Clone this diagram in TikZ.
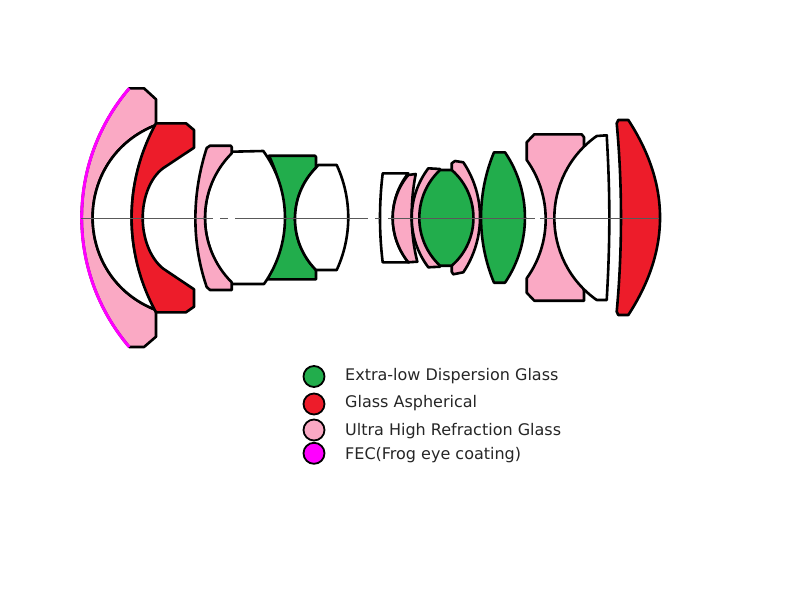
\documentclass[tikz,border=0pt]{standalone}
\usepackage{fontspec}
\setmainfont{DejaVu Sans}
\definecolor{lpink}{HTML}{FAA9C4}
\definecolor{lgreen}{HTML}{22AD4C}
\definecolor{lred}{HTML}{ED1C2A}
\definecolor{lmag}{HTML}{FF00FF}
\tikzset{
 lens/.style={draw=black,line width=2.6pt,line join=round},
 pinklens/.style={lens,fill=lpink},
 greenlens/.style={lens,fill=lgreen},
 redlens/.style={lens,fill=lred},
 whitelens/.style={lens,fill=white},
 axisline/.style={draw=black!65,line width=1pt},
 legdot/.style={circle,draw=black,line width=1.8pt,minimum size=21pt,inner sep=0pt},
 legtext/.style={anchor=west,inner sep=0pt,text=black!85,font=\fontsize{16pt}{18pt}\selectfont}
}
\begin{document}
\begin{tikzpicture}[x=1pt,y=-1pt]
\useasboundingbox[fill=white] (0,0) rectangle (800,600);
% first group
\path[pinklens] (129.3,88.3) -- (144,88.3) -- (156,99.3) -- (156,125)
  .. controls (71.5,157.8) and (71.5,277.2) .. (156,310)
  -- (156,336.7) -- (144,347) -- (129.3,347)
  .. controls (65.8,272.4) and (65.8,162.9) .. cycle;
\path[draw=lmag,line width=3pt] (129.3,88.3) .. controls (65.8,162.9) and (65.8,272.4) .. (129.3,347);
\path[whitelens] (156,125) .. controls (71.5,157.8) and (71.5,277.2) .. (156,310)
  .. controls (123.5,253) and (123.5,182.4) .. cycle;
\path[redlens] (156,123.3) -- (186,123.3) -- (194,130) -- (194,147.7)
  -- (163,168.3) .. controls (150,178) and (142.7,198) .. (142.7,218)
  .. controls (142.7,238) and (150,258) .. (163,268.5)
  -- (194,289.3) -- (194,306.7) -- (186,312.3) -- (156,312.3)
  .. controls (123.5,253) and (123.5,182.4) .. cycle;
% second group
\path[greenlens] (269,155.7) -- (315,155.7) -- (316,157) -- (316,167.7)
  .. controls (288,195.9) and (288,241.8) .. (316,270)
  -- (316,279.3) -- (267.3,279.3)
  .. controls (288.4,238) and (288.4,197) .. cycle;
\path[whitelens] (316,167.7) -- (318.3,165) -- (336.7,165)
  .. controls (352.1,198.3) and (352.1,236.7) .. (336.7,270)
  -- (316.7,270) -- (316,270)
  .. controls (288,241.8) and (288,195.9) .. cycle;
\path[whitelens] (231.7,151.7) -- (263.3,151)
  .. controls (292.1,190.7) and (292.1,244.3) .. (264,284)
  -- (231.7,284)
  .. controls (196.1,246.6) and (196.1,189) .. cycle;
\path[pinklens] (206.7,148) -- (210,145.7) -- (230.7,145.7) -- (231.7,147) -- (231.7,153.3)
  .. controls (196.1,189) and (196.1,246.6) .. (231.7,282.3)
  -- (231.7,290) -- (210,290) -- (206.7,287)
  .. controls (191.6,243) and (191.6,195) .. cycle;
% third group
\path[whitelens] (382.7,173.3) -- (408.3,173.3)
  .. controls (387.5,199.3) and (387.5,236.3) .. (408.3,262.3)
  -- (382.7,262.3) .. controls (379.1,233) and (379.1,203) .. cycle;
\path[pinklens] (408.3,175) -- (415.7,174)
  .. controls (410.1,203) and (410.1,233) .. (417.3,261.7)
  -- (408.3,262.3)
  .. controls (387.5,236.3) and (387.5,199.3) .. cycle;
\path[pinklens] (428.3,168.3) -- (440,169) -- (440,266.7) -- (428.3,267.3)
  .. controls (406.2,238) and (406.2,197.6) .. cycle;
\path[pinklens] (451.7,163.3) -- (455,161) -- (463.3,162.3)
  .. controls (485.6,195.5) and (485.6,239) .. (463.3,272.3)
  -- (453.3,274.3) -- (451.7,271.7) -- (451.7,170) -- cycle;
\path[greenlens] (440,170) -- (451.7,170)
  .. controls (480.7,195) and (480.7,240.7) .. (451.7,265.7)
  -- (440,265.7)
  .. controls (412.4,239.8) and (412.4,195.9) .. cycle;
\path[greenlens] (494,152.3) -- (505,152.3)
  .. controls (531.6,191.5) and (531.6,243.5) .. (505,282.7)
  -- (494,282.7)
  .. controls (476.7,241.2) and (476.7,193.8) .. cycle;
% fourth group
\path[pinklens] (534.3,134.3) -- (581.7,134.3) -- (584,137.3) -- (584,146.7) -- (570,218) -- (584,291.7)
  -- (584,300.7) -- (534.3,300.7) -- (526.7,292.7) -- (526.7,278.3)
  .. controls (552,243.1) and (552,195.2) .. (526.7,160)
  -- (526.7,142.3) -- cycle;
\path[whitelens] (596.7,136) -- (606.7,135.3)
  .. controls (610.2,195) and (610.2,240) .. (606.7,300)
  -- (596.7,300)
  .. controls (540.2,260) and (540.2,176) .. cycle;
\path[redlens] (618.3,120) -- (628.3,120)
  .. controls (670.6,185) and (670.6,250) .. (628.3,315)
  -- (618.3,315) -- (616.7,311.7)
  .. controls (622.4,250) and (622.4,185) .. (616.7,123.3) -- cycle;
% optical axis
\coordinate (ax0) at (81,218.3);
\coordinate (ax1) at (213,218.3);
\coordinate (ax2) at (220,218.3);
\coordinate (ax3) at (228,218.3);
\coordinate (ax4) at (235,218.3);
\coordinate (ax5) at (368,218.3);
\coordinate (ax6) at (375,218.3);
\coordinate (ax7) at (380,218.3);
\coordinate (ax8) at (388,218.3);
\coordinate (ax9) at (535,218.3);
\coordinate (ax10) at (540,218.3);
\coordinate (ax11) at (659,218.3);
\draw[axisline] (ax0) -- (ax1) (ax2) -- (ax3) (ax4) -- (ax5) (ax6) -- (ax7) (ax8) -- (ax9) (ax10) -- (ax11);
% legend
\node[legdot,fill=lgreen] (d1) at (314,376.5) {};
\node[legdot,fill=lred] (d2) at (314,404) {};
\node[legdot,fill=lpink] (d3) at (314,430) {};
\node[legdot,fill=lmag] (d4) at (314,453.3) {};
\node[legtext] (t1) at (345,376.5) {Extra-low Dispersion Glass};
\node[legtext] (t2) at (345,403.5) {Glass Aspherical};
\node[legtext] (t3) at (345,431.5) {Ultra High Refraction Glass};
\node[legtext] (t4) at (345,455.5) {FEC(Frog eye coating)};
\end{tikzpicture}
\end{document}
